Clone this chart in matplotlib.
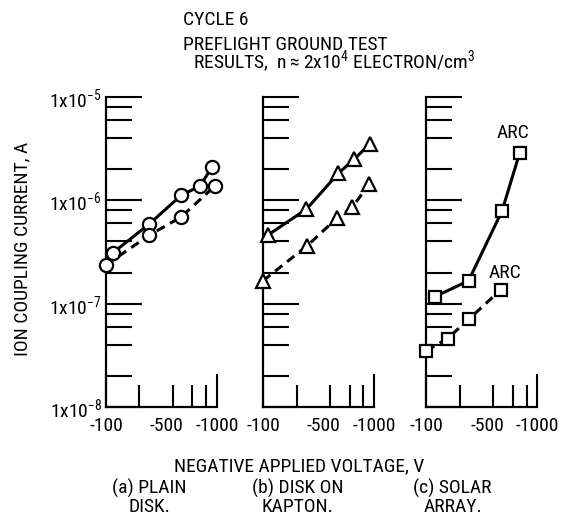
import matplotlib
matplotlib.use('Agg')
import matplotlib.pyplot as plt
from matplotlib.ticker import FixedLocator, FixedFormatter, NullFormatter

plt.rcParams['font.family'] = ['Roboto Condensed', 'DejaVu Sans']
plt.rcParams['mathtext.fontset'] = 'custom'
plt.rcParams['mathtext.rm'] = 'Roboto Condensed'
plt.rcParams['mathtext.default'] = 'regular'

# (a) plain disk
a_solid_v = [-115, -245, -475, -700, -900]
a_solid_i = [3.1e-7, 5.9e-7, 1.12e-6, 1.37e-6, 2.1e-6]
a_dash_v = [-100, -245, -475, -950]
a_dash_i = [2.37e-7, 4.6e-7, 6.9e-7, 1.37e-6]

# (b) disk on kapton
b_solid_v = [-110, -245, -475, -660, -910]
b_solid_i = [4.6e-7, 8.2e-7, 1.82e-6, 2.5e-6, 3.5e-6]
b_dash_v = [-100, -247, -460, -635, -900]
b_dash_i = [1.67e-7, 3.6e-7, 6.7e-7, 8.55e-7, 1.44e-6]

# (c) solar array
c_solid_v = [-120, -240, -480, -690]
c_solid_i = [1.17e-7, 1.67e-7, 7.9e-7, 2.85e-6]
c_dash_v = [-100, -155, -240, -470]
c_dash_i = [3.5e-8, 4.6e-8, 7.05e-8, 1.37e-7]

x_ticks = [-100, -500, -1000]
x_minor = [-200, -400, -600, -800]
y_ticks = [1e-8, 1e-7, 1e-6, 1e-5]
y_labels = [r'1x10$^{-8}$', r'1x10$^{-7}$', r'1x10$^{-6}$', r'1x10$^{-5}$']
y_minor = [k * 10.0 ** e for e in (-8, -7, -6) for k in (2, 4, 6, 8)]

panels = [
    ((a_solid_v, a_solid_i), (a_dash_v, a_dash_i), 'o', 9.5, 0.189, '(a) PLAIN', 'DISK.', 0.266),
    ((b_solid_v, b_solid_i), (b_dash_v, b_dash_i), '^', 10.5, 0.469, '(b) DISK ON', 'KAPTON.', 0.530),
    ((c_solid_v, c_solid_i), (c_dash_v, c_dash_i), 's', 9.0, 0.760, '(c) SOLAR', 'ARRAY.', 0.807),
]

fig = plt.figure(figsize=(5.61, 5.21), dpi=100)
fs = 14

axes = []
for solid, dash, mk, ms, left, cap1, cap2, capx in panels:
    ax = fig.add_axes([left, 0.2188, 0.198, 0.595])
    axes.append(ax)
    ax.set_xscale('log')
    ax.set_yscale('log')
    ax.set_xlim(100, 1000)
    ax.set_ylim(1e-8, 1e-5)
    style = dict(color='black', marker=mk, ms=ms, mfc='white', mec='black',
                 mew=1.6, lw=2.2, clip_on=False, zorder=5)
    ax.plot([-v for v in solid[0]], solid[1], ls='-', **style)
    ax.plot([-v for v in dash[0]], dash[1], ls=(0, (3, 2)), **style)

    for s in ['top', 'right']:
        ax.spines[s].set_visible(False)
    for s in ['left', 'bottom']:
        ax.spines[s].set_linewidth(1.6)

    ax.xaxis.set_major_locator(FixedLocator([-v for v in x_ticks]))
    ax.xaxis.set_major_formatter(FixedFormatter([str(v) for v in x_ticks]))
    ax.xaxis.set_minor_locator(FixedLocator([-v for v in x_minor]))
    ax.xaxis.set_minor_formatter(NullFormatter())
    ax.tick_params(axis='x', which='major', direction='in', length=24,
                   width=1.5, pad=7, labelsize=fs)
    ax.tick_params(axis='x', which='minor', direction='in', length=16, width=1.5)
    ax.xaxis.get_major_ticks()[1].tick1line.set_visible(False)
    for lab in ax.get_xticklabels():
        if lab.get_text() == '-500':
            lab.set_ha('right')

    ax.yaxis.set_major_locator(FixedLocator(y_ticks))
    ax.yaxis.set_minor_locator(FixedLocator(y_minor))
    ax.yaxis.set_minor_formatter(NullFormatter())
    ax.tick_params(axis='y', which='major', direction='in', length=26,
                   width=1.5, pad=3, labelsize=fs)
    ax.tick_params(axis='y', which='minor', direction='in', length=19, width=1.5)
    if ax is axes[0]:
        ax.yaxis.set_major_formatter(FixedFormatter(y_labels))
    else:
        ax.yaxis.set_major_formatter(NullFormatter())

    fig.text(capx, 0.063, cap1, ha='center', va='center', fontsize=fs)
    fig.text(capx, 0.027, cap2, ha='center', va='center', fontsize=fs)

# arc labels on the solar array panel
axc = axes[2]
axc.annotate('ARC', (-c_solid_v[-1], c_solid_i[-1]), xytext=(-5, 15),
             textcoords='offset points', ha='center', va='center', fontsize=fs)
axc.annotate('ARC', (-c_dash_v[-1], c_dash_i[-1]), xytext=(3, 12),
             textcoords='offset points', ha='center', va='center', fontsize=fs)

fig.text(0.326, 0.952, 'CYCLE 6', ha='left', va='baseline', fontsize=fs)
fig.text(0.326, 0.904, 'PREFLIGHT GROUND TEST', ha='left', va='baseline', fontsize=fs)
fig.text(0.344, 0.869, r'RESULTS,  n$\approx$2x10$^{4}$ ELECTRON/cm$^{3}$',
         ha='left', va='baseline', fontsize=fs)

fig.text(0.039, 0.522, 'ION COUPLING CURRENT, A', rotation=90,
         ha='center', va='center', fontsize=fs)
fig.text(0.533, 0.104, 'NEGATIVE APPLIED VOLTAGE, V', ha='center', va='center', fontsize=fs)

fig.savefig('out.png', dpi=100)
